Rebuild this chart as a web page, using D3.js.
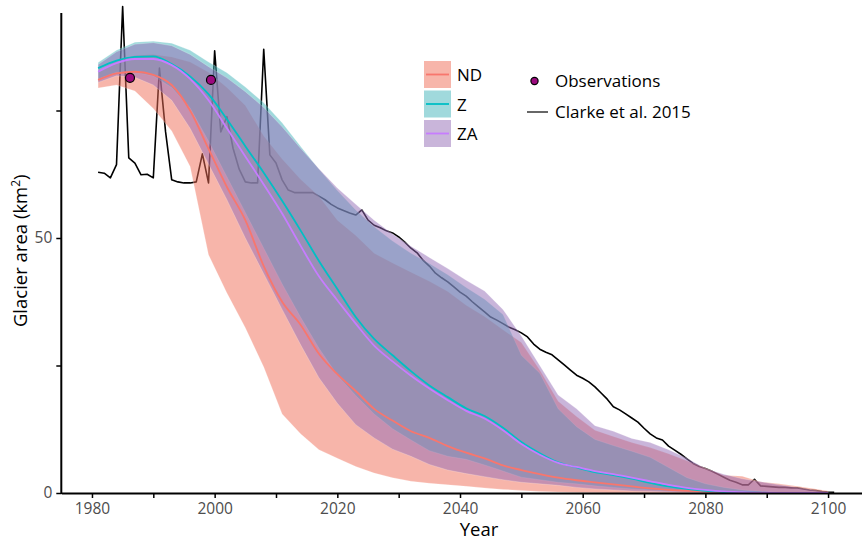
<!DOCTYPE html>
<html>
<head>
<meta charset="utf-8">
<script src="https://cdn.jsdelivr.net/npm/d3@7"></script>
<style>
body { margin: 0; background: #fff; }
svg { display: block; font-family: "Open Sans", sans-serif; }
</style>
</head>
<body>
<script>
// model runs, sampled every 3 years
var years = [1981,1984,1987,1990,1993,1996,1999,2002,2005,2008,2011,2014,2017,2020,2023,2026,2029,2032,2035,2038,2041,2044,2047,2050,2053,2056,2059,2062,2065,2068,2071,2074,2077,2080,2083,2086,2089,2092,2095,2098,2100];

var ndMean = [81.0,82.3,82.6,82.0,80.0,75.0,67.5,60.0,53.5,44.5,37.5,33.0,27.3,23.3,20.0,16.5,14.2,12.1,10.8,9.2,7.9,6.8,5.4,4.5,3.7,3.0,2.5,2.1,1.7,1.3,0.9,0.6,0.4,0.25,0.15,0.1,0.05,0.03,0.02,0.01,0];
var ndLow  = [79.4,80.0,78.8,75.4,71.0,64.0,46.7,39.2,32.4,24.7,15.5,11.6,8.5,6.8,5.2,3.9,3.0,2.3,1.9,1.6,1.3,1.0,0.7,0.5,0.3,0.2,0.1,0.05,0,0,0,0,0,0,0,0,0,0,0,0,0];
var ndHigh = [82.5,84.8,85.8,86.0,85.5,84.5,82.5,79.5,76.0,70.0,65.5,61.5,58.2,53.5,50.5,47.0,45.1,43.3,41.5,39.5,36.8,34.6,32.0,29.5,24.1,18.0,15.0,12.3,11.1,9.9,8.9,7.7,6.3,4.9,3.5,3.3,2.2,1.8,1.3,0.8,0.4];

var zMean = [83.3,84.8,85.5,85.6,84.1,81.7,78.2,73.3,68.0,62.8,57.3,51.5,45.5,40.0,34.5,30.2,27.0,23.9,21.1,18.8,16.6,15.1,12.8,10.0,7.8,6.0,5.0,4.1,3.5,2.8,2.0,1.3,0.8,0.4,0.2,0.1,0.05,0.02,0.01,0,0];
var zLow  = [81.2,82.5,82.5,81.8,79.5,75.5,69.0,62.0,55.0,48.0,41.0,34.5,28.4,23.1,19.1,15.5,12.6,10.4,8.3,7.2,6.6,5.5,4.3,3.1,2.6,2.1,1.8,1.4,1.1,0.8,0.6,0.4,0.3,0.2,0.1,0.05,0.02,0,0,0,0];
var zHigh = [84.4,86.8,88.4,88.6,88.2,86.8,84.5,82.4,79.6,76.5,72.6,68.0,63.5,59.3,55.5,52.2,49.4,47.0,45.0,42.8,40.3,38.0,35.0,27.0,23.5,16.5,13.0,10.5,9.3,8.2,7.0,5.0,3.0,1.8,1.1,0.6,0.3,0.1,0,0,0];

var zaMean = [82.6,84.3,85.1,85.1,83.9,81.2,77.0,71.5,66.0,60.5,54.8,48.5,42.5,37.8,33.2,28.9,25.8,23.0,20.5,18.2,16.1,14.6,12.3,9.6,7.5,5.9,5.1,4.3,3.7,3.0,2.3,1.6,1.0,0.6,0.3,0.15,0.05,0.02,0.01,0,0];
var zaLow  = [80.5,81.8,81.5,80.0,77.0,71.5,64.5,57.5,50.0,43.0,36.0,29.1,22.6,17.6,13.4,10.8,8.6,7.2,5.6,4.5,3.8,3.2,2.6,2.1,1.8,1.5,1.1,0.8,0.6,0.4,0.3,0.2,0.1,0.05,0,0,0,0,0,0,0];
var zaHigh = [84.0,86.5,88.0,88.3,87.7,86.0,83.6,81.4,78.7,75.6,71.8,67.6,63.6,59.8,56.6,53.5,50.8,48.4,46.2,44.0,41.7,39.6,36.0,30.8,25.0,19.2,16.5,13.2,12.1,10.7,9.9,8.5,6.8,4.8,3.7,2.8,2.2,1.6,1.1,0.5,0.2];

// Clarke et al. 2015, yearly
var clarkeYears = d3.range(1981, 2102);
var clarkeArea = [62.9,62.7,61.8,64.4,95.4,65.7,64.7,62.4,62.5,61.8,
  83.3,70.8,61.4,61.0,60.8,60.8,61.0,66.5,60.8,86.7,
  70.8,73.8,67.6,63.5,61.0,60.8,60.8,87.0,66.3,64.7,
  61.4,59.4,58.9,58.9,58.9,58.9,58.2,57.5,56.6,55.9,
  55.4,54.9,54.5,55.5,53.5,52.5,52.0,51.4,51.0,50.2,
  49.2,48.0,47.1,45.6,44.5,43.1,42.2,41.4,40.4,39.4,
  38.6,37.5,36.5,35.5,34.5,33.9,33.2,32.5,32.0,31.4,
  30.6,29.2,28.2,27.6,27.1,26.1,25.1,24.1,23.1,22.5,
  21.8,20.8,19.6,18.4,16.9,16.3,15.5,14.7,13.9,12.7,
  11.6,10.8,10.4,9.2,8.4,7.6,6.7,5.8,5.2,4.8,
  4.3,3.7,3.1,2.5,2.1,1.6,1.6,2.7,1.4,1.3,
  1.2,1.1,1.1,1.0,1.0,0.8,0.6,0.5,0.3,0.2,0.15];

var obsYears = [1986.2, 1999.4];
var obsArea = [81.4, 81.0];

var seriesNames = ["ND", "Z", "ZA"];
var lineColors = ["#F8766D", "#00BFC4", "#C77CFF"];
var fillColors = ["#ef6b55", "#41b3b9", "#936bb5"];

var width = 862, height = 540;

var x = d3.scaleLinear().domain([1975, 2107]).range([61.3, 871]);
var y = d3.scaleLinear().domain([0, 100]).range([493, -17]);

var svg = d3.select("body").append("svg")
  .attr("width", width)
  .attr("height", height);

svg.append("rect").attr("width", "100%").attr("height", "100%").attr("fill", "white");

// Clarke line sits under the ribbons
var clarke = clarkeYears.map(function(yr, i){ return [yr, clarkeArea[i]]; });
svg.append("path")
  .datum(clarke)
  .attr("fill", "none")
  .attr("stroke", "#000")
  .attr("stroke-width", 1.6)
  .attr("stroke-linejoin", "round")
  .attr("d", d3.line().x(function(d){ return x(d[0]); }).y(function(d){ return y(d[1]); }));

var bands = [
  { mean: ndMean, low: ndLow, high: ndHigh },
  { mean: zMean, low: zLow, high: zHigh },
  { mean: zaMean, low: zaLow, high: zaHigh }
];

var area = d3.area()
  .x(function(d){ return x(d.yr); })
  .y0(function(d){ return y(d.lo); })
  .y1(function(d){ return y(d.hi); });

var line = d3.line()
  .curve(d3.curveMonotoneX)
  .x(function(d){ return x(d.yr); })
  .y(function(d){ return y(d.m); });

var rows = bands.map(function(b){
  return years.map(function(yr, i){ return { yr: yr, lo: b.low[i], hi: b.high[i], m: b.mean[i] }; });
});

svg.selectAll("path.ribbon")
  .data(rows)
  .enter()
  .append("path")
  .attr("class", "ribbon")
  .attr("fill", function(d, i){ return fillColors[i]; })
  .attr("fill-opacity", 0.5)
  .attr("stroke", "#fff")
  .attr("stroke-opacity", 0.3)
  .attr("stroke-width", 0.7)
  .attr("d", area);

svg.selectAll("path.mean")
  .data(rows)
  .enter()
  .append("path")
  .attr("class", "mean")
  .attr("fill", "none")
  .attr("stroke", function(d, i){ return lineColors[i]; })
  .attr("stroke-width", 1.8)
  .attr("d", line);

svg.selectAll("circle.obs")
  .data(obsYears)
  .enter()
  .append("circle")
  .attr("class", "obs")
  .attr("cx", function(d){ return x(d); })
  .attr("cy", function(d, i){ return y(obsArea[i]); })
  .attr("r", 4.5)
  .attr("fill", "#9c0a7f")
  .attr("stroke", "#000")
  .attr("stroke-width", 1.2);

// axes
var xAxis = d3.axisBottom(x)
  .tickValues(d3.range(1980, 2101, 10))
  .tickFormat(function(d){ return d % 20 === 0 ? d : ""; })
  .tickSize(5)
  .tickSizeOuter(0)
  .tickPadding(5);

var gx = svg.append("g").attr("transform", "translate(0," + y(0) + ")").call(xAxis);
gx.select(".domain").attr("stroke", "#000").attr("stroke-width", 2);
gx.selectAll(".tick line").attr("stroke", "#000").attr("stroke-width", 1.5);
gx.selectAll(".tick text").attr("fill", "#4d4d4d").style("font-size", "15.5px").attr("font-family", "Open Sans");

var yAxis = d3.axisLeft(y)
  .tickValues([0, 25, 50, 75])
  .tickFormat(function(d){ return d % 50 === 0 ? d : ""; })
  .tickSize(5)
  .tickSizeOuter(0)
  .tickPadding(4);

var gy = svg.append("g").attr("transform", "translate(" + x(1975) + ",0)").call(yAxis);
gy.select(".domain").remove();
gy.selectAll(".tick line").attr("stroke", "#000").attr("stroke-width", 1.5);
gy.selectAll(".tick text").attr("fill", "#4d4d4d").style("font-size", "15.5px").attr("font-family", "Open Sans");
gy.append("line")
  .attr("x1", 0).attr("x2", 0)
  .attr("y1", y(0) + 1).attr("y2", y(94.1))
  .attr("stroke", "#000").attr("stroke-width", 2);

svg.append("text")
  .attr("x", 479).attr("y", 536)
  .attr("text-anchor", "middle")
  .style("font-size", "18.5px")
  .attr("fill", "#000")
  .text("Year");

var yt = svg.append("text")
  .attr("transform", "translate(27," + y(47.5) + ") rotate(-90)")
  .attr("text-anchor", "middle")
  .style("font-size", "18.5px")
  .attr("fill", "#000");
yt.append("tspan").text("Glacier area (km");
yt.append("tspan").attr("dy", -7).style("font-size", "12px").text("2");
yt.append("tspan").attr("dy", 7).text(")");

// legend
var leg = svg.append("g").attr("transform", "translate(424,61)");
var keys = leg.selectAll("g.key")
  .data(seriesNames)
  .enter()
  .append("g")
  .attr("class", "key")
  .attr("transform", function(d, i){ return "translate(0," + (i * 29.5) + ")"; });
keys.append("rect")
  .attr("width", 27).attr("height", 27)
  .attr("fill", function(d, i){ return fillColors[i]; })
  .attr("fill-opacity", 0.5);
keys.append("line")
  .attr("x1", 2).attr("x2", 25)
  .attr("y1", 13.5).attr("y2", 13.5)
  .attr("stroke", function(d, i){ return lineColors[i]; })
  .attr("stroke-width", 1.8);
keys.append("text")
  .attr("x", 33).attr("y", 20)
  .style("font-size", "17px")
  .attr("fill", "#000")
  .text(function(d){ return d; });

var leg2 = svg.append("g").attr("transform", "translate(527,81)");
leg2.append("circle")
  .attr("cx", 7.5).attr("cy", 0).attr("r", 3.6)
  .attr("fill", "#9c0a7f").attr("stroke", "#000").attr("stroke-width", 1.2);
leg2.append("text")
  .attr("x", 28).attr("y", 6)
  .style("font-size", "17px")
  .text("Observations");
leg2.append("line")
  .attr("x1", 0).attr("x2", 21)
  .attr("y1", 31).attr("y2", 31)
  .attr("stroke", "#000").attr("stroke-width", 1.2);
leg2.append("text")
  .attr("x", 28).attr("y", 37)
  .style("font-size", "17px")
  .text("Clarke et al. 2015");
</script>
</body>
</html>
